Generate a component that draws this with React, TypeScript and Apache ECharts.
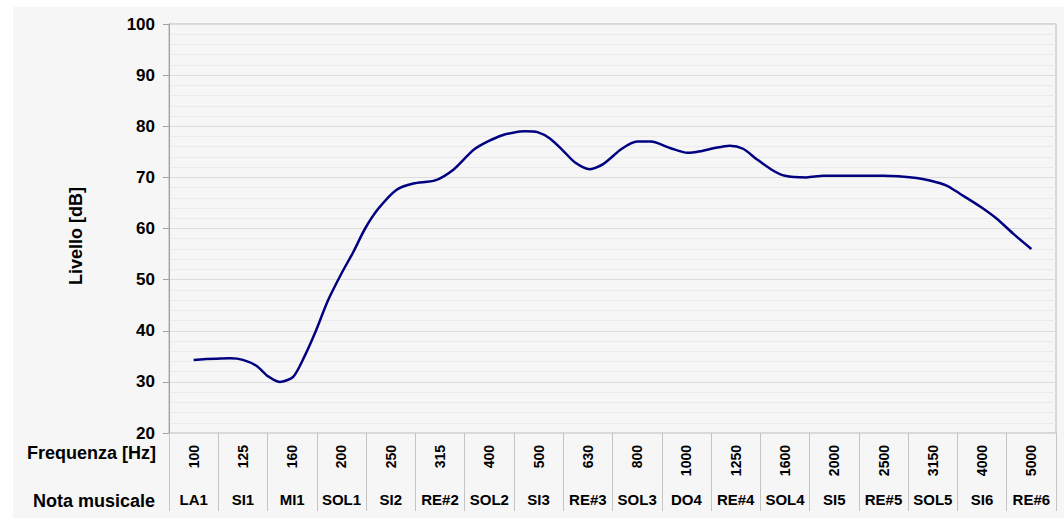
import React, { useEffect, useRef } from "react";
import * as echarts from "echarts";

const frequencies = ["100", "125", "160", "200", "250", "315", "400", "500", "630", "800", "1000", "1250", "1600", "2000", "2500", "3150", "4000", "5000"];
const notes = ["LA1", "SI1", "MI1", "SOL1", "SI2", "RE#2", "SOL2", "SI3", "RE#3", "SOL3", "DO4", "RE#4", "SOL4", "SI5", "RE#5", "SOL5", "SI6", "RE#6"];

// curve samples: position along the frequency bands (band index) and level in dB
const bandPositions = [0.0, 0.74, 1.0, 1.28, 1.51, 1.75, 2.02, 2.23, 2.46, 2.73, 3.0, 3.24, 3.48, 3.75, 4.12, 4.46, 4.9, 5.27, 5.71, 6.25, 6.72, 6.99, 7.23, 7.5, 7.74, 8.04, 8.31, 8.69, 9.0, 9.28, 9.68, 10.02, 10.28, 10.55, 10.88, 11.15, 11.42, 11.73, 12.0, 12.44, 12.78, 14.0, 14.67, 14.94, 15.28, 15.55, 15.96, 16.3, 16.63, 17.0];
const levels = [34.3, 34.6, 34.3, 33.1, 31.1, 30.0, 31.0, 34.6, 39.5, 46.0, 51.2, 55.4, 60.0, 63.9, 67.6, 68.8, 69.4, 71.5, 75.6, 78.2, 79.0, 78.8, 77.6, 75.2, 72.9, 71.6, 72.6, 75.6, 77.0, 77.0, 75.7, 74.8, 75.1, 75.7, 76.2, 75.6, 73.6, 71.5, 70.3, 70.0, 70.3, 70.3, 69.9, 69.4, 68.4, 66.8, 64.3, 61.9, 59.0, 56.0];

const FONT = "'Liberation Sans', Arial, sans-serif";

export default function App() {
  const ref = useRef<HTMLDivElement>(null);
  useEffect(() => {
    if (!ref.current) return;
    const chart = echarts.init(ref.current, undefined, { renderer: "svg" });
    const bg = "#f6f6f6";
    chart.setOption({
      animation: false,
      backgroundColor: "#ffffff",
      textStyle: { fontFamily: FONT },
      graphic: [
        { type: "rect", z: -100, silent: true, shape: { x: 13, y: 7, width: 1051, height: 511 }, style: { fill: bg } },
        { type: "text", x: 75.5, y: 236, rotation: Math.PI / 2, style: { text: "Livello [dB]", font: `bold 18px ${FONT}`, fill: "#000", align: "center", verticalAlign: "middle" } },
        { type: "text", x: 156, y: 453, style: { text: "Frequenza [Hz]", font: `bold 18px ${FONT}`, fill: "#000", align: "right", verticalAlign: "middle" } },
        { type: "text", x: 155, y: 501, style: { text: "Nota musicale", font: `bold 18px ${FONT}`, fill: "#000", align: "right", verticalAlign: "middle" } },
      ],
      grid: { left: 169, top: 24, right: 8, bottom: 87, show: true, borderColor: "#b8b8b8", borderWidth: 1, backgroundColor: bg },
      xAxis: [
        {
          type: "category",
          data: frequencies,
          position: "bottom",
          boundaryGap: true,
          axisLine: { show: false },
          axisTick: { show: true, length: 78, interval: 0, lineStyle: { color: "#c4c4c4" } },
          axisLabel: { interval: 0, rotate: 90, margin: 12, fontSize: 14, fontWeight: "bold", color: "#000", fontFamily: FONT },
          splitLine: { show: false },
        },
        {
          type: "category",
          data: notes,
          position: "bottom",
          boundaryGap: true,
          axisLine: { show: false },
          axisTick: { show: false },
          axisLabel: { interval: 0, margin: 59, fontSize: 15, fontWeight: "bold", color: "#000", fontFamily: FONT },
          splitLine: { show: false },
        },
        {
          type: "value",
          min: -0.5,
          max: 17.5,
          show: false,
          splitLine: { show: false },
        },
      ],
      yAxis: {
        type: "value",
        min: 20,
        max: 100,
        interval: 10,
        axisLine: { show: true, onZero: false, lineStyle: { color: "#a0a0a0" } },
        axisTick: { show: true, length: 6, lineStyle: { color: "#a0a0a0" } },
        axisLabel: { margin: 14, fontSize: 17, fontWeight: "bold", color: "#000", fontFamily: FONT },
        splitLine: { show: true, lineStyle: { color: "#dcdcdc", width: 1 } },
        minorTick: { show: false, splitNumber: 5 },
        minorSplitLine: { show: true, lineStyle: { color: "#ebebeb", width: 1 } },
      },
      series: [
        {
          type: "line",
          xAxisIndex: 2,
          data: bandPositions.map((p, i) => [p, levels[i]]),
          smooth: 0.25,
          symbol: "none",
          lineStyle: { color: "#000080", width: 2.5 },
          z: 5,
        },
      ],
    });
    return () => chart.dispose();
  }, []);
  return <div ref={ref} style={{ position: "absolute", left: 0, top: 0, width: 1064, height: 520 }} />;
}
